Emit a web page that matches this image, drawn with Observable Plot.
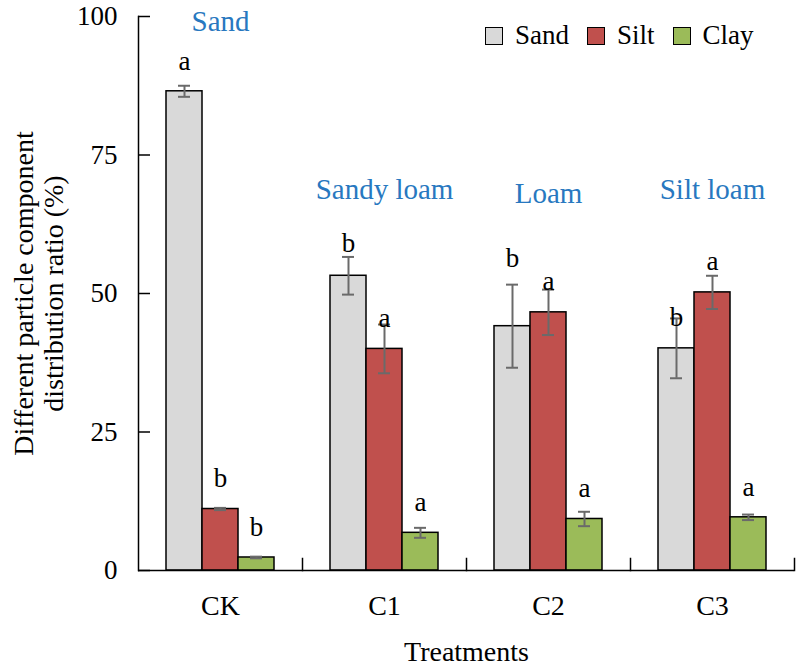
<!DOCTYPE html>
<html><head><meta charset="utf-8">
<script src="https://cdn.jsdelivr.net/npm/d3@7"></script>
<script src="https://cdn.jsdelivr.net/npm/@observablehq/plot@0.6"></script>
<style>
body{margin:0;background:#fff;}
#wrap{position:relative;width:798px;height:665px;font-family:"Liberation Serif","Times New Roman",serif;}
#legend{position:absolute;left:485px;top:20px;display:flex;align-items:center;font-size:27px;color:#000;line-height:30px;}
.item{display:flex;align-items:center;margin-right:18px;}
.sw{width:16px;height:16px;border:1.5px solid #000;margin-right:12px;margin-top:2px;}
</style></head><body><div id="wrap"><div id="legend"></div></div>
<script>
const groups = ["CK", "C1", "C2", "C3"];
const series = ["Sand", "Silt", "Clay"];
const sandValues = [86.5, 53.2, 44.1, 40.1];
const sandErrors = [1.0, 3.4, 7.5, 5.4];
const siltValues = [11.1, 40.0, 46.6, 50.2];
const siltErrors = [0.2, 4.4, 4.1, 3.0];
const clayValues = [2.35, 6.8, 9.3, 9.6];
const clayErrors = [0.15, 0.9, 1.3, 0.5];
const sandLetters = ["a", "b", "b", "b"];
const siltLetters = ["b", "a", "a", "a"];
const clayLetters = ["b", "a", "a", "a"];
const sandLetterY = [90.4, 57.5, 54.7, 44.2];
const siltLetterY = [15.0, 43.9, 50.7, 54.3];
const clayLetterY = [6.3, 10.7, 13.2, 13.5];
const textures = ["Sand", "Sandy loam", "Loam", "Silt loam"];
const textureY = [97.3, 67.0, 66.4, 67.0];
const yTicks = [0, 25, 50, 75, 100];
const colors = ["#d9d9d9", "#c0504d", "#9bbb59"];
const yLabel = "Different particle component\ndistribution ratio (%)";
const xLabel = "Treatments";

const perSeries = [
  [sandValues, sandErrors, sandLetters, sandLetterY],
  [siltValues, siltErrors, siltLetters, siltLetterY],
  [clayValues, clayErrors, clayLetters, clayLetterY]
];
const rows = [];
groups.forEach((g, gi) => {
  series.forEach((s, si) => {
    const [v, e, l, ly] = perSeries[si];
    rows.push({group: g, series: s, value: v[gi], err: e[gi], letter: l[gi], ly: ly[gi]});
  });
});
const textureRows = groups.map((g, i) => ({group: g, label: textures[i], y: textureY[i]}));

const chart = Plot.plot({
  width: 798, height: 665,
  marginTop: 16, marginBottom: 95, marginLeft: 138, marginRight: 4,
  style: {fontFamily: "'Liberation Serif', 'Times New Roman', serif", fontSize: "27px", background: "transparent", color: "#000"},
  fx: {domain: groups, padding: 0, label: null},
  x: {domain: series, paddingInner: 0, paddingOuter: 0.75, axis: null},
  y: {domain: [0, 100]},
  color: {domain: series, range: colors},
  marks: [
    Plot.barY(rows, {fx: "group", x: "series", y: "value", fill: "series", stroke: "#000", strokeWidth: 1.5}),
    Plot.ruleX(rows, {fx: "group", x: "series", y1: d => d.value - d.err, y2: d => d.value + d.err, stroke: "#6a6a6a", strokeWidth: 2}),
    Plot.tickY(rows, {fx: "group", x: "series", y: d => d.value + d.err, stroke: "#6a6a6a", strokeWidth: 2, insetLeft: 12, insetRight: 12}),
    Plot.tickY(rows, {fx: "group", x: "series", y: d => d.value - d.err, stroke: "#6a6a6a", strokeWidth: 2, insetLeft: 12, insetRight: 12}),
    Plot.text(rows, {fx: "group", x: "series", y: "ly", text: "letter", lineAnchor: "bottom", fill: "#000"}),
    Plot.text(textureRows, {fx: "group", y: "y", text: "label", lineAnchor: "bottom", fill: "#2878c0", fontSize: 29}),
    Plot.ruleY([0], {stroke: "#000", strokeWidth: 1.5}),
    Plot.frame({anchor: "left", facetAnchor: "left", stroke: "#000", strokeWidth: 1.5}),
    Plot.frame({anchor: "right", insetTop: 542, stroke: "#000", strokeWidth: 1.5}),
    Plot.axisY({ticks: yTicks, tickSize: 12, dx: 12, tickPadding: 21, strokeWidth: 1.5, label: null}),
    Plot.text([yLabel], {facetAnchor: "left", frameAnchor: "left", rotate: -90, lineAnchor: "top",
      textAnchor: "middle", dx: -127, fontSize: 28, lineHeight: 1.07, fill: "#000"}),
    Plot.axisFx({anchor: "bottom", tickSize: 0, tickPadding: 25, fontSize: 28, label: xLabel,
      labelAnchor: "center", labelOffset: 90, labelArrow: "none"})
  ]
});
const wrap = document.getElementById("wrap");
wrap.insertBefore(chart, wrap.firstChild);

const legend = document.getElementById("legend");
series.forEach((s, i) => {
  const item = document.createElement("div");
  item.className = "item";
  const sw = document.createElement("div");
  sw.className = "sw";
  sw.style.background = colors[i];
  const t = document.createElement("span");
  t.textContent = s;
  item.appendChild(sw);
  item.appendChild(t);
  legend.appendChild(item);
});
</script></body></html>
